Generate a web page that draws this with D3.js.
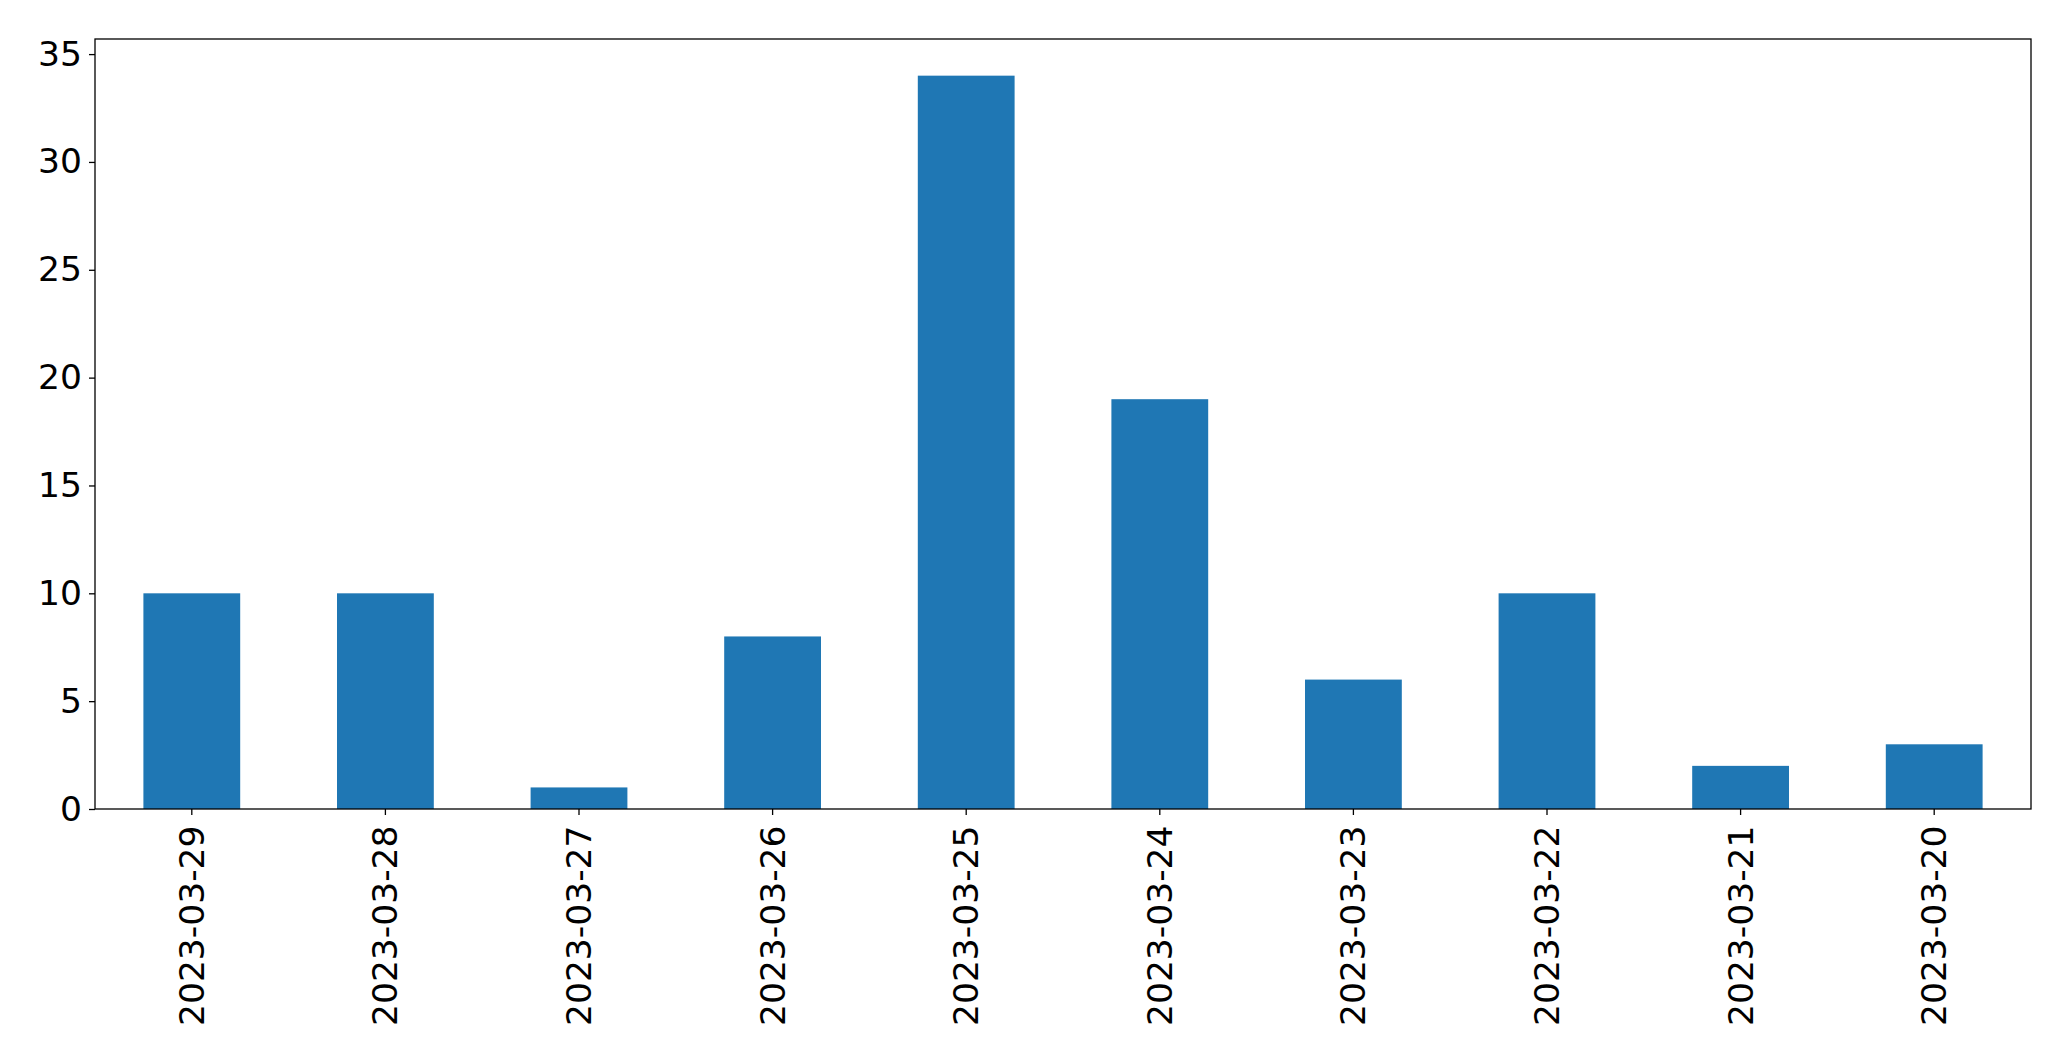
<!DOCTYPE html>
<html><head><meta charset="utf-8">
<script src="https://cdn.jsdelivr.net/npm/d3@7"></script>
<style>body{margin:0;background:#fff}svg{display:block}text{font-family:"DejaVu Sans",sans-serif}</style>
</head><body>
<script>
const categories = ["2023-03-29","2023-03-28","2023-03-27","2023-03-26","2023-03-25","2023-03-24","2023-03-23","2023-03-22","2023-03-21","2023-03-20"];
const values = [10,10,1,8,34,19,6,10,2,3];
const yTicks = [0,5,10,15,20,25,30,35];

const W = 2071, H = 1061;
const m = {left:95, right:2071-2031, top:39, bottom:1061-809};
const iw = W - m.left - m.right, ih = H - m.top - m.bottom;
const svg = d3.select("body").append("svg").attr("width",W).attr("height",H);
const g = svg.append("g").attr("transform",`translate(${m.left},${m.top})`);

const x = d3.scaleBand().domain(categories).range([0,iw]).paddingInner(0.5).paddingOuter(0.25);
const y = d3.scaleLinear().domain([0, d3.max(values)*1.05]).range([ih,0]);

g.selectAll("rect.bar").data(values).join("rect").attr("class","bar")
  .attr("x",(d,i)=>x(categories[i])).attr("width",x.bandwidth())
  .attr("y",d=>y(d)).attr("height",d=>y(0)-y(d)).attr("fill","#1f77b4");

const fs = 34.5;
const ya = g.append("g").call(d3.axisLeft(y).tickValues(yTicks).tickSize(6).tickPadding(7).tickFormat(d3.format("d")));
ya.select(".domain").remove();
ya.selectAll("line").attr("stroke","#000").attr("stroke-width",1.3);
ya.selectAll("text").attr("font-size",fs).attr("fill","#000").attr("font-family","DejaVu Sans");

const xa = g.append("g").attr("transform",`translate(0,${ih})`).call(d3.axisBottom(x).tickSize(6).tickPadding(8));
xa.select(".domain").remove();
xa.selectAll("line").attr("stroke","#000").attr("stroke-width",1.3);
xa.selectAll("text").attr("font-size",fs).attr("fill","#000").attr("font-family","DejaVu Sans")
  .attr("transform","rotate(-90)").attr("text-anchor","end").attr("x",-16.5).attr("y",0).attr("dy","0.35em");

g.append("rect").attr("x",0).attr("y",0).attr("width",iw).attr("height",ih)
  .attr("fill","none").attr("stroke","#000").attr("stroke-width",1.3);
</script>
</body></html>
